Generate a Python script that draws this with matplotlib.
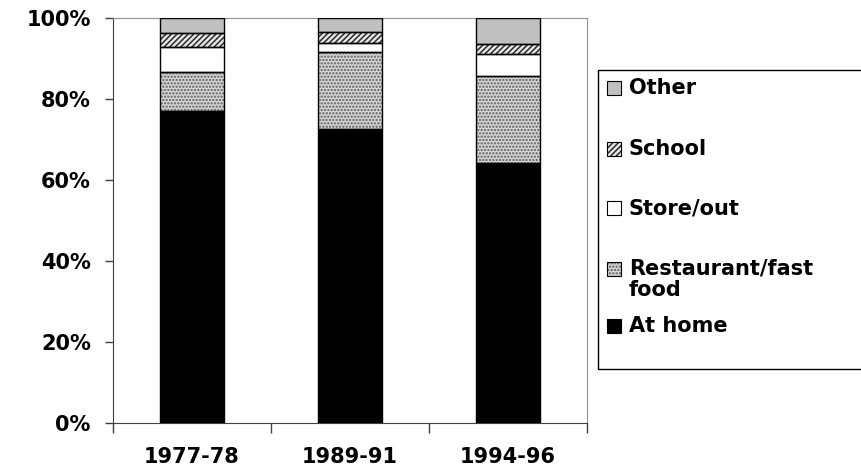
import numpy as np
import matplotlib
matplotlib.use("Agg")
import matplotlib.pyplot as plt
import matplotlib.patches as mpatches

# data (percent of energy intake by source)
periods = ["1977-78", "1989-91", "1994-96"]
at_home = [77.1, 72.6, 64.2]
restaurant = [9.5, 18.9, 21.6]
store_out = [6.3, 2.4, 5.2]
school = [3.5, 2.6, 2.7]
other = [3.6, 3.5, 6.3]

series_names = ["At home", "Restaurant/fast\nfood", "Store/out", "School", "Other"]
series_vals = [at_home, restaurant, store_out, school, other]

# face colour, hatch, hatch colour
styles = [
    ("black", None, "black"),
    ("#d6d6d6", ".....", "#5a5a5a"),
    ("white", None, "black"),
    ("#e8e8e8", "//////", "#2a2a2a"),
    ("#c0c0c0", None, "black"),
]

plt.rcParams["font.family"] = "DejaVu Sans"
plt.rcParams["font.weight"] = "bold"
plt.rcParams["hatch.linewidth"] = 1.1

W, H = 861, 469
fig = plt.figure(figsize=(W / 100, H / 100), dpi=100)
ax = fig.add_axes([113 / W, 1 - 423 / H, (587 - 113) / W, (423 - 18) / H])

x = np.arange(len(periods))
bw = 0.4
bottom = np.zeros(len(periods))
for vals, (fc, hatch, hc) in zip(series_vals, styles):
    ax.bar(x, vals, bw, bottom=bottom, color=fc, hatch=hatch, edgecolor=hc, linewidth=0, zorder=2)
    ax.bar(x, vals, bw, bottom=bottom, fill=False, edgecolor="black", linewidth=1, zorder=3)
    bottom += np.array(vals)

ax.set_xlim(-0.5, 2.5)
ax.set_ylim(0, 100)
ax.set_yticks(np.arange(0, 101, 20))
ax.set_yticklabels([f"{v}%" for v in range(0, 101, 20)], fontsize=15, fontweight="bold")
ax.set_xticks(x)
ax.set_xticklabels(periods, fontsize=15, fontweight="bold")
ax.set_xticks(np.arange(-0.5, 3, 1), minor=True)
ax.tick_params(axis="x", which="major", length=0, pad=17)
ax.tick_params(axis="x", which="minor", length=7, width=1, color="#404040", direction="out")
ax.tick_params(axis="y", length=6, width=1, color="#404040", direction="out", pad=10)

for s in ["left", "bottom"]:
    ax.spines[s].set_color("#404040")
for s in ["top", "right"]:
    ax.spines[s].set_color("#909090")

# legend drawn by hand to keep the Excel-like spacing
def fx(px):
    return px / W

def fy(py):
    return 1 - py / H

frame = mpatches.Rectangle((fx(598), fy(369)), fx(900) - fx(598), (369 - 70) / H,
                           transform=fig.transFigure, fill=False, edgecolor="black", linewidth=1)
fig.add_artist(frame)

leg_order = [4, 3, 2, 1, 0]
leg_y = [88, 149, 208, 269, 326]
for i, yy in zip(leg_order, leg_y):
    fc, hatch, hc = styles[i]
    sq = 14
    fig.add_artist(mpatches.Rectangle((fx(607), fy(yy + sq / 2)), sq / W, sq / H,
                                      transform=fig.transFigure, facecolor=fc, hatch=hatch,
                                      edgecolor=hc, linewidth=0))
    fig.add_artist(mpatches.Rectangle((fx(607), fy(yy + sq / 2)), sq / W, sq / H,
                                      transform=fig.transFigure, fill=False,
                                      edgecolor="black", linewidth=0.8))
    label = series_names[i]
    if "\n" in label:
        fig.text(fx(629), fy(yy - 11), label, fontsize=15, fontweight="bold",
                 ha="left", va="top", linespacing=1.15)
    else:
        fig.text(fx(629), fy(yy), label, fontsize=15, fontweight="bold",
                 ha="left", va="center")

fig.savefig("out.png", dpi=100)
